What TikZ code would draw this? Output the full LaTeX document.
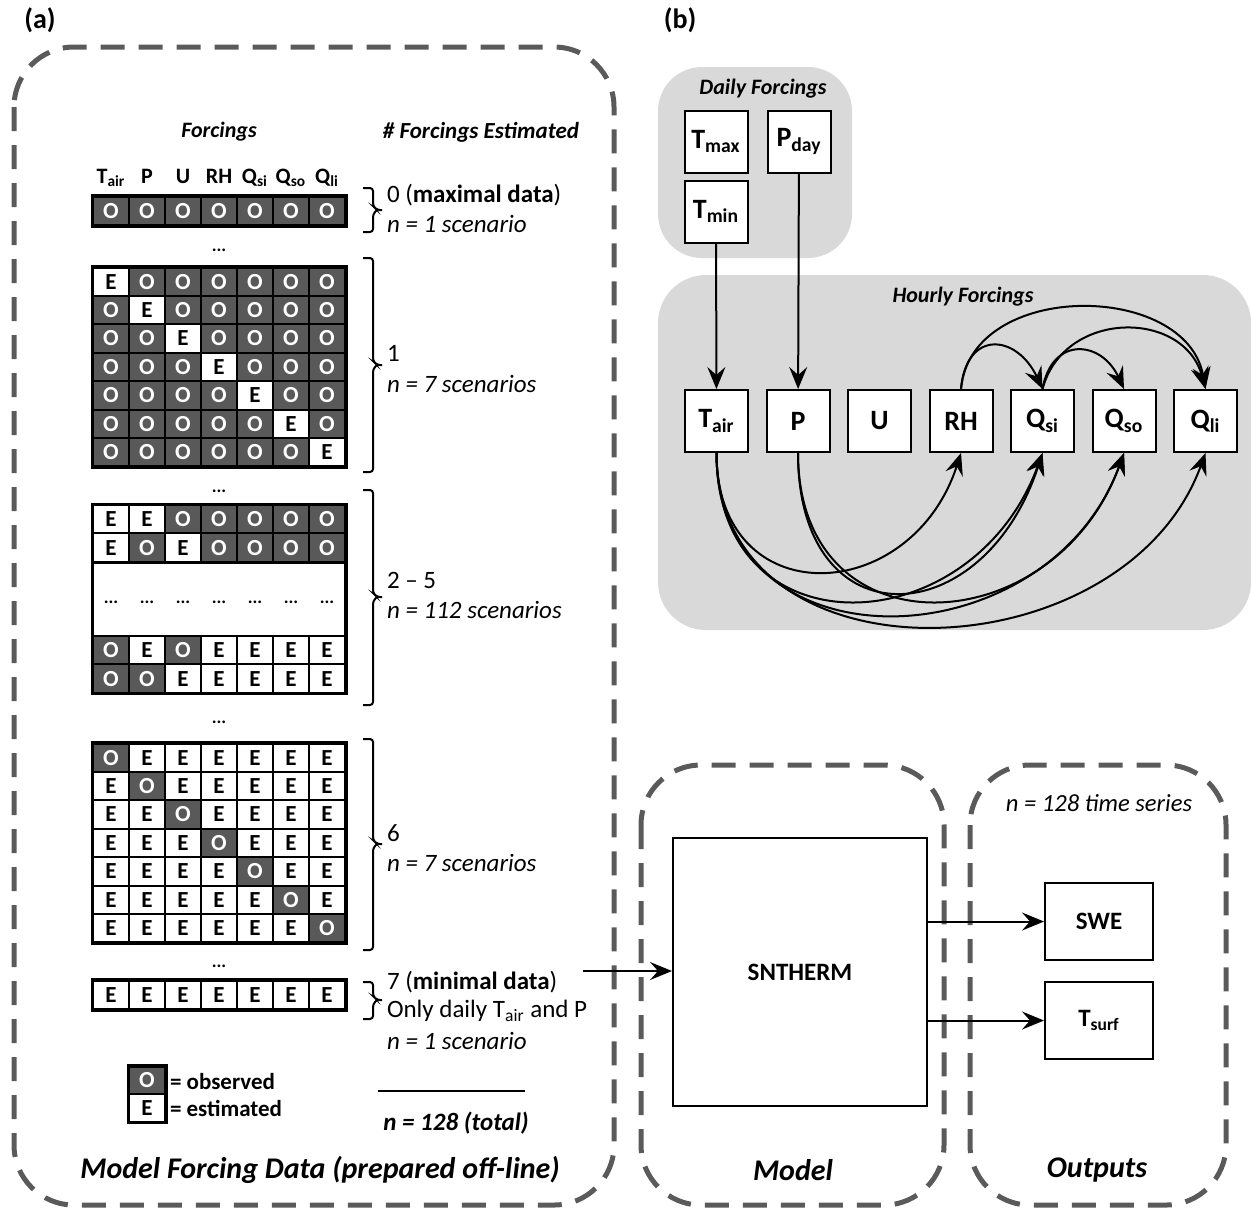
\documentclass[tikz,border=0pt]{standalone}
\usepackage{fontspec}
\setmainfont{Carlito}
\usetikzlibrary{arrows.meta}

\definecolor{obsgray}{HTML}{595959}
\definecolor{panelgray}{HTML}{D9D9D9}
\definecolor{framegray}{HTML}{5A5A5A}

\newcommand{\fsz}[1]{\fontsize{#1}{#1}\selectfont}
% half bracket on the right of a block of scenarios
\newcommand{\scenbrace}[3]{%
    \draw[rounded corners = 1.5pt] (363,#1) -- (373,#1) -- (373,#2-4) -- (377,#2) -- (382,#2);
    \draw[rounded corners = 1.5pt] (363,#3) -- (373,#3) -- (373,#2+4) -- (377,#2);}

\begin{document}
\begin{tikzpicture}[x = 0.5pt, y = -0.5pt, line width = 1pt, every node/.style = {inner sep = 0pt},
        cellO/.style = {draw, fill = obsgray, text = white, minimum width = 18pt, minimum height = 14.2pt, font = \bfseries\fsz{11.5}},
        cellE/.style = {cellO, fill = white, text = black},
        head/.style = {anchor = base, font = \bfseries\fsz{11}},
        dots/.style = {font = \bfseries\fsz{9}},
        count/.style = {anchor = west, font = \fsz{12.5}},
        title/.style = {font = \bfseries\itshape\fsz{11}},
        big/.style = {font = \bfseries\itshape\fsz{15}},
        box/.style = {draw, fill = white, minimum width = 31.5pt, minimum height = 31pt, font = \bfseries\fsz{14}},
        frame/.style = {draw = framegray, line width = 2.5pt, dash pattern = on 12pt off 7pt, rounded corners = 30pt},
        arr/.style = {-{Stealth[length = 11pt, width = 9pt, inset = 4pt]}}]
    \useasboundingbox (0,0) rectangle (1251,1211);

    % (a) forcing data
    \node[font = \bfseries\fsz{14}] (laba) at (40,20) {(a)};
    \draw[frame] (14,47) rectangle (614,1205);
    \node[title] (forcings) at (219,132) {Forcings};
    \node[title, font = \bfseries\itshape\fsz{11.5}] (estimated) at (481,132) {\# Forcings Estimated};
    \foreach \h [count = \c] in {T\textsubscript{air}, P, U, RH, Q\textsubscript{si}, Q\textsubscript{so}, Q\textsubscript{li}}
        \node[head] (head-\c) at ({75+36*\c},183) {\h};

    % 0 estimated
    \foreach \v [count = \c] in {O,O,O,O,O,O,O}
        \node[cell\v] (zero-\c) at ({75+36*\c},211) {\v};
    \draw[line width = 1.5pt] (zero-1.north west) rectangle (zero-7.south east);
    \node[dots] (dots-1) at (219,250) {...};

    % 1 estimated
    \foreach \r in {1,...,7} {
        \foreach \c in {1,...,7} {
            \ifnum\r=\c \def\v{E}\else \def\v{O}\fi
            \node[cell\v] (one-\r-\c) at ({75+36*\c},{253.3+28.4*\r}) {\v};
        }
    }
    \draw[line width = 1.5pt] (one-1-1.north west) rectangle (one-7-7.south east);
    \node[dots] (dots-2) at (219,491) {...};

    % 2 - 5 estimated
    \foreach \v [count = \c] in {E,E,O,O,O,O,O}
        \node[cell\v] (two-1-\c) at ({75+36*\c},519.2) {\v};
    \foreach \v [count = \c] in {E,O,E,O,O,O,O}
        \node[cell\v] (two-2-\c) at ({75+36*\c},547.6) {\v};
    \draw[fill = white] (two-2-1.south west) rectangle (345,636);
    \foreach \c in {1,...,7}
        \node[dots] (mid-\c) at ({75+36*\c},602) {...};
    \foreach \v [count = \c] in {O,E,O,E,E,E,E}
        \node[cell\v] (two-3-\c) at ({75+36*\c},650.2) {\v};
    \foreach \v [count = \c] in {O,O,E,E,E,E,E}
        \node[cell\v] (two-4-\c) at ({75+36*\c},678.6) {\v};
    \draw[line width = 1.5pt] (two-1-1.north west) rectangle (two-4-7.south east);
    \node[dots] (dots-3) at (219,722) {...};

    % 6 estimated
    \foreach \r in {1,...,7} {
        \foreach \c in {1,...,7} {
            \ifnum\r=\c \def\v{O}\else \def\v{E}\fi
            \node[cell\v] (six-\r-\c) at ({75+36*\c},{729.3+28.4*\r}) {\v};
        }
    }
    \draw[line width = 1.5pt] (six-1-1.north west) rectangle (six-7-7.south east);
    \node[dots] (dots-4) at (219,966) {...};

    % 7 estimated
    \foreach \v [count = \c] in {E,E,E,E,E,E,E}
        \node[cell\v] (seven-\c) at ({75+36*\c},995) {\v};
    \draw[line width = 1.5pt] (seven-1.north west) rectangle (seven-7.south east);

    % brackets and counts
    \scenbrace{188}{210}{232}
    \scenbrace{258}{365}{472}
    \scenbrace{490}{597}{705}
    \scenbrace{739}{844}{950}
    \scenbrace{982}{1000}{1019}
    \node[count] (max) at (386,195) {0 (\textbf{maximal data})};
    \node[count] (maxn) at (386,224) {\itshape n = 1 scenario};
    \node[count] (one) at (386,353) {1};
    \node[count] (onen) at (386,384) {\itshape n = 7 scenarios};
    \node[count] (two) at (386,580) {2 -- 5};
    \node[count] (twon) at (386,610) {\itshape n = 112 scenarios};
    \node[count] (six) at (386,833) {6};
    \node[count] (sixn) at (386,863) {\itshape n = 7 scenarios};
    \node[count] (min) at (386,982) {7 (\textbf{minimal data})};
    \node[count] (minonly) at (386,1011) {Only daily T\textsubscript{air} and P};
    \node[count] (minn) at (386,1041) {\itshape n = 1 scenario};
    \draw (378,1091) -- (525,1091);
    \node[font = \bfseries\itshape\fsz{12.5}] (total) at (456,1123) {n = 128 (total)};

    % legend
    \node[cellO, minimum height = 13.7pt] (legO) at (147,1080.5) {O};
    \node[cellE, minimum height = 13.7pt] (legE) at (147,1108) {E};
    \draw[line width = 1.5pt] (legO.north west) rectangle (legE.south east);
    \node[anchor = west, font = \bfseries\fsz{11.5}] (legOt) at (169,1081) {= observed};
    \node[anchor = west, font = \bfseries\fsz{11.5}] (legEt) at (169,1108) {= estimated};
    \node[big] (mfd) at (320,1170) {Model Forcing Data (prepared off-line)};

    % (b) forcing disaggregation
    \node[font = \bfseries\fsz{14}] (labb) at (680,20) {(b)};
    \fill[panelgray, rounded corners = 22pt] (658,67) rectangle (852,258);
    \fill[panelgray, rounded corners = 24pt] (658,275) rectangle (1251,630);
    \node[title] (daily) at (763,89) {Daily Forcings};
    \node[title] (hourly) at (963,297) {Hourly Forcings};
    \node[box] (tmax) at (716,141.5) {T\textsubscript{max}};
    \node[box] (pday) at (799,141.5) {P\textsubscript{day}};
    \node[box] (tmin) at (716,211.5) {T\textsubscript{min}};
    \foreach \n/\t [count = \c] in {tair/T\textsubscript{air}, p/P, u/U, rh/RH, qsi/Q\textsubscript{si}, qso/Q\textsubscript{so}, qli/Q\textsubscript{li}}
        \node[box] (\n) at ({635+81.5*\c},421) {\t};
    \draw[arr] (tmin) -- (tair);
    \draw[arr] (pday) -- (p);
    \draw[arr] (tair.south) to[out = -90, in = -108, looseness = 1.7] (rh.south);
    \draw[arr] (tair.south) to[out = -90, in = -110, looseness = 1.6] (qsi.south);
    \draw[arr] (tair.south) to[out = -90, in = -110, looseness = 1.4] (qso.south);
    \draw[arr] (tair.south) to[out = -90, in = -110, looseness = 1.25] (qli.south);
    \draw[arr] (p.south) to[out = -90, in = -108, looseness = 2] (qsi.south);
    \draw[arr] (p.south) to[out = -90, in = -110, looseness = 1.6] (qso.south);
    \draw[arr] (rh.north) to[out = 85, in = 115, looseness = 1.9] (qsi.north);
    \draw[arr] (rh.north) to[out = 85, in = 100, looseness = 1.15] (qli.north);
    \draw[arr] (qsi.north) to[out = 80, in = 115, looseness = 1.7] (qso.north);
    \draw[arr] (qsi.north) to[out = 75, in = 105, looseness = 1.3] (qli.north);

    % model and outputs
    \draw[frame] (641,765) rectangle (944,1205);
    \draw[frame] (970,765) rectangle (1226,1205);
    \node[draw, minimum width = 127pt, minimum height = 134pt, font = \bfseries\fsz{12.5}] (sntherm) at (800,972) {SNTHERM};
    \node[draw, minimum width = 54pt, minimum height = 38.5pt, font = \bfseries\fsz{12.5}] (swe) at (1099,921.5) {SWE};
    \node[draw, minimum width = 54pt, minimum height = 38.5pt, font = \bfseries\fsz{12.5}] (tsurf) at (1099,1020.5) {T\textsubscript{surf}};
    \coordinate (forcingout) at (583,971);
    \draw[arr] (forcingout) -- (sntherm.west |- forcingout);
    \draw[arr] (sntherm.east |- swe) -- (swe.west);
    \draw[arr] (sntherm.east |- tsurf) -- (tsurf.west);
    \node[font = \itshape\fsz{12.3}] (series) at (1099,803) {n = 128 time series};
    \node[big] (model) at (793,1170) {Model};
    \node[big] (outputs) at (1097,1170) {Outputs};
\end{tikzpicture}
\end{document}
